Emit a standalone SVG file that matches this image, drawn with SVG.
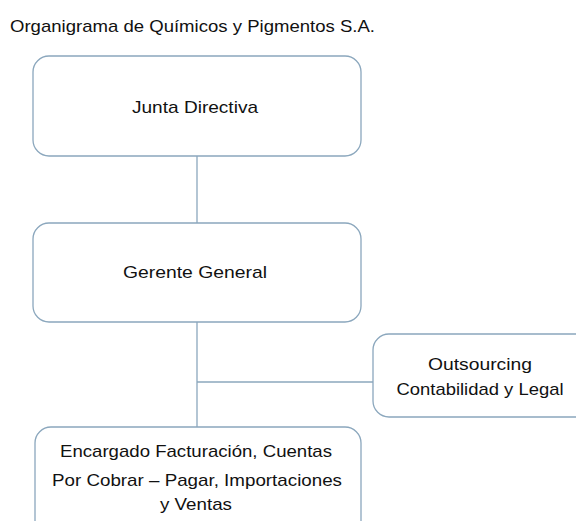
<svg xmlns="http://www.w3.org/2000/svg" width="576" height="521" viewBox="0 0 576 521">
  <style>
    .box { fill: #ffffff; stroke: #8ba7bd; stroke-width: 1.3; }
    .conn { stroke: #8ba7bd; stroke-width: 1.3; fill: none; }
    text { font-family: "Liberation Sans", Arial, sans-serif; font-size: 17px; fill: #111111; }
    .c { text-anchor: middle; }
  </style>
  <rect width="576" height="521" fill="#ffffff"/>
  <text id="title" x="10" y="32" textLength="365" lengthAdjust="spacingAndGlyphs">Organigrama de Químicos y Pigmentos S.A.</text>
  <g id="connectors">
    <line class="conn" x1="197" y1="156" x2="197" y2="223"/>
    <line class="conn" x1="197" y1="322" x2="197" y2="427"/>
    <line class="conn" x1="197" y1="382" x2="373" y2="382"/>
  </g>
  <g id="junta">
    <rect class="box" x="33" y="56" width="328" height="100" rx="16"/>
    <text class="c" x="195" y="113" textLength="126" lengthAdjust="spacingAndGlyphs">Junta Directiva</text>
  </g>
  <g id="gerente">
    <rect class="box" x="33" y="223" width="328" height="99" rx="16"/>
    <text class="c" x="195" y="278" textLength="144" lengthAdjust="spacingAndGlyphs">Gerente General</text>
  </g>
  <g id="outsourcing">
    <rect class="box" x="373" y="334" width="220" height="83" rx="16"/>
    <text class="c" x="480" y="370" textLength="104" lengthAdjust="spacingAndGlyphs">Outsourcing</text>
    <text class="c" x="480" y="395" textLength="167" lengthAdjust="spacingAndGlyphs">Contabilidad y Legal</text>
  </g>
  <g id="encargado">
    <rect class="box" x="35" y="427" width="326" height="110" rx="16"/>
    <text class="c" x="196" y="457" textLength="272" lengthAdjust="spacingAndGlyphs">Encargado Facturación, Cuentas</text>
    <text class="c" x="197" y="486" textLength="290" lengthAdjust="spacingAndGlyphs">Por Cobrar – Pagar, Importaciones</text>
    <text class="c" x="196" y="510" textLength="72" lengthAdjust="spacingAndGlyphs">y Ventas</text>
  </g>
</svg>
